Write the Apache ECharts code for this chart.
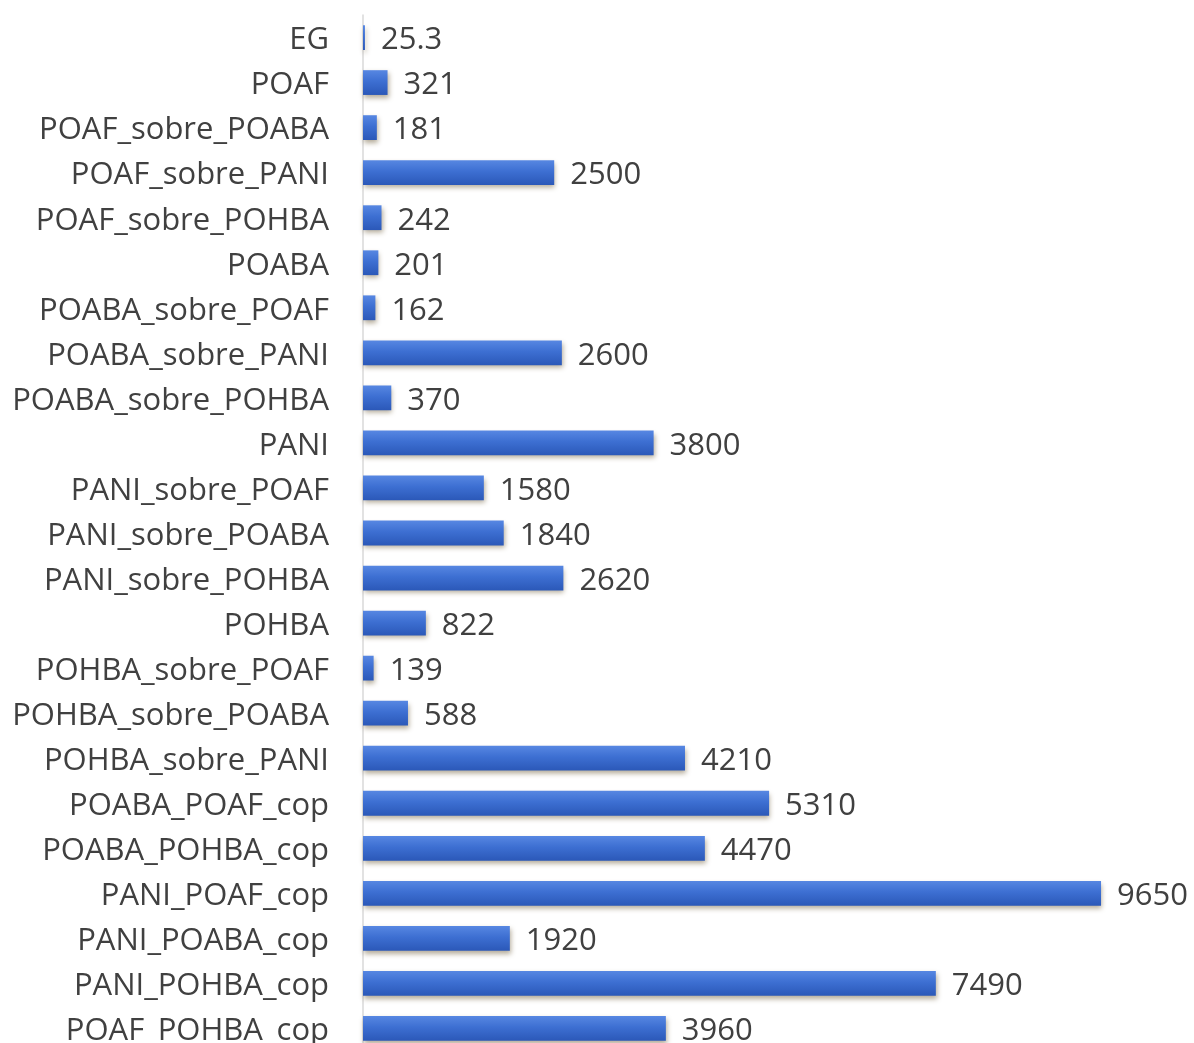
<!DOCTYPE html>
<html>
<head>
<meta charset="utf-8">
<script src="https://cdn.jsdelivr.net/npm/echarts@6/dist/echarts.min.js"></script>
<style>
  html, body { margin: 0; padding: 0; background: #ffffff; overflow: hidden; }
  /* the plot runs past the bottom edge of the window, so the last row is cut */
  #chart { width: 1194px; height: 1070px; }
</style>
</head>
<body>
<div id="chart"></div>
<script>
// Sample names, top to bottom
const categories = [
  "EG", "POAF", "POAF_sobre_POABA", "POAF_sobre_PANI", "POAF_sobre_POHBA",
  "POABA", "POABA_sobre_POAF", "POABA_sobre_PANI", "POABA_sobre_POHBA",
  "PANI", "PANI_sobre_POAF", "PANI_sobre_POABA", "PANI_sobre_POHBA",
  "POHBA", "POHBA_sobre_POAF", "POHBA_sobre_POABA", "POHBA_sobre_PANI",
  "POABA_POAF_cop", "POABA_POHBA_cop", "PANI_POAF_cop", "PANI_POABA_cop",
  "PANI_POHBA_cop", "POAF_POHBA_cop"
];

// Measured value for each sample
const values = [
  25.3, 321, 181, 2500, 242,
  201, 162, 2600, 370,
  3800, 1580, 1840, 2620,
  822, 139, 588, 4210,
  5310, 4470, 9650, 1920,
  7490, 3960
];

const axisMax = 10000;

const textColor = '#404040';
const fontFamily = '"Open Sans", "Noto Sans", sans-serif';

const chart = echarts.init(document.getElementById('chart'), null, { renderer: 'canvas' });

chart.setOption({
  animation: false,
  backgroundColor: '#ffffff',
  grid: {
    left: 363,
    top: 15,
    width: 764.8,
    height: 1036,
    containLabel: false
  },
  xAxis: {
    type: 'value',
    min: 0,
    max: axisMax,
    show: false
  },
  yAxis: {
    type: 'category',
    data: categories,
    inverse: true,
    axisLine: { show: true, lineStyle: { color: '#d9d9d9', width: 1.5 } },
    axisTick: { show: false },
    splitLine: { show: false },
    axisLabel: {
      margin: 34,
      formatter: v => '{t|' + v + '}',
      rich: {
        t: {
          color: textColor,
          fontFamily: fontFamily,
          fontSize: 31,
          padding: [6, 0, 0, 0]
        }
      }
    }
  },
  series: [{
    type: 'bar',
    data: values,
    barCategoryGap: '45%',
    itemStyle: {
      color: new echarts.graphic.LinearGradient(0, 0, 0, 1, [
        { offset: 0, color: '#5787e2' },
        { offset: 0.45, color: '#3d6fd2' },
        { offset: 1, color: '#2b58b8' }
      ]),
      shadowColor: 'rgba(90, 70, 30, 0.45)',
      shadowBlur: 5,
      shadowOffsetX: 1,
      shadowOffsetY: 3
    },
    label: {
      show: true,
      position: 'right',
      distance: 16,
      offset: [0, 3],
      color: textColor,
      fontFamily: fontFamily,
      fontSize: 31,
      formatter: p => String(p.value)
    }
  }]
});
</script>
</body>
</html>
